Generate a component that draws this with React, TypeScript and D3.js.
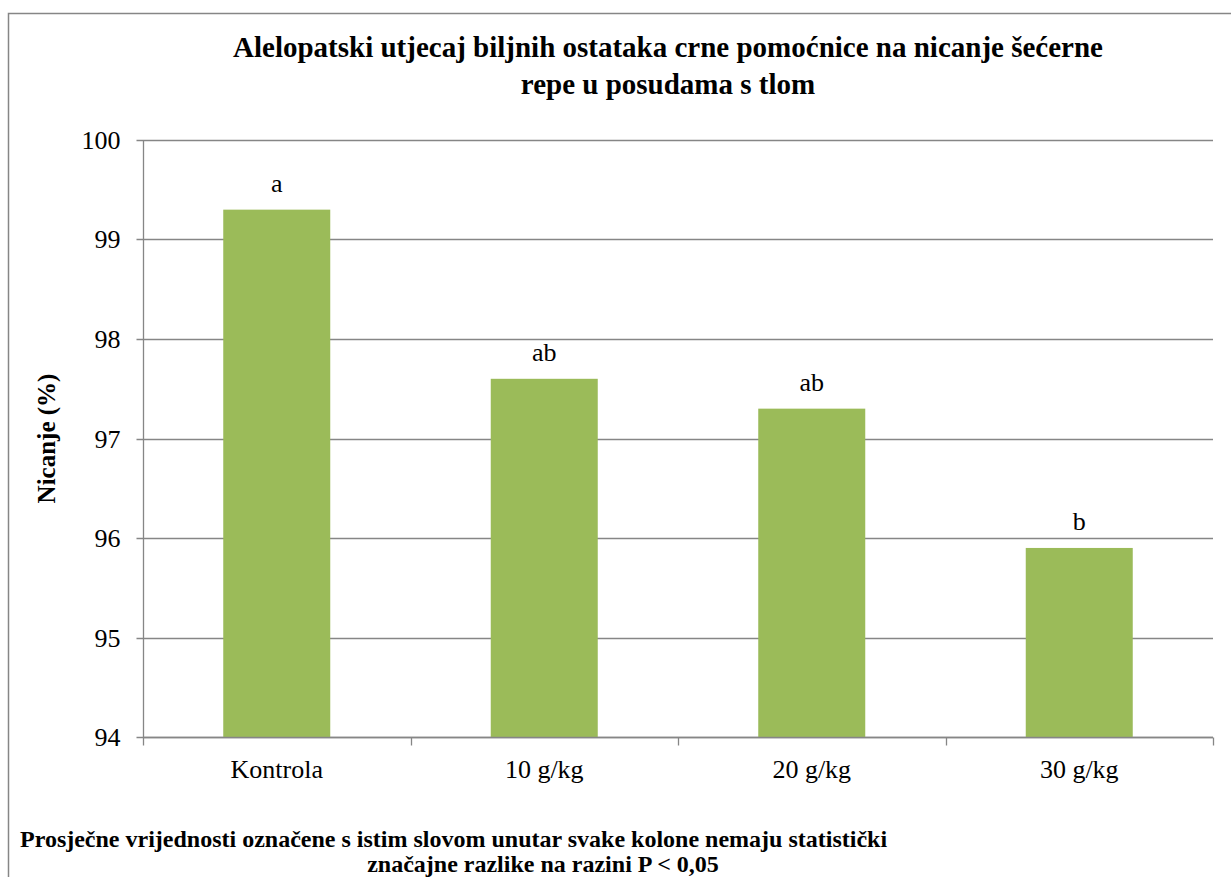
import React from "react";
import * as d3 from "d3";

const categories = ["Kontrola", "10 g/kg", "20 g/kg", "30 g/kg"];
const values = [99.3, 97.6, 97.3, 95.9];
const letters = ["a", "ab", "ab", "b"];
const yTicks = [94, 95, 96, 97, 98, 99, 100];

const titleLines = [
  "Alelopatski utjecaj biljnih ostataka crne pomoćnice na nicanje šećerne",
  "repe u posudama s tlom",
];
const yLabel = "Nicanje (%)";
const noteLines = [
  "Prosječne vrijednosti označene s istim slovom unutar svake kolone nemaju statistički",
  "značajne razlike na razini P < 0,05",
];

const width = 1231;
const height = 877;
const margin = { top: 140, right: 18, bottom: 140, left: 143 };
const grey = "#868686";
const fontList = "'Times New Roman', Tinos, 'Liberation Serif', 'DejaVu Serif', serif";
const serif = { fontFamily: fontList };

const App = () => {
  const x = d3
    .scaleBand()
    .domain(categories)
    .range([margin.left, width - margin.right]);
  const y = d3
    .scaleLinear()
    .domain([94, 100])
    .range([height - margin.bottom, margin.top]);

  const barW = x.bandwidth() / 2.5;
  const x0 = margin.left + 0.5;
  const x1 = width - margin.right;
  const yBase = Math.round(y(94)) + 0.5;
  const edges = categories.map((c) => x(c)!).concat([x1]);
  const fmt = d3.format("d");

  return (
    <svg width={width} height={height} style={{ position: "absolute", left: 0, top: 0 }}>
      <style>{`text { font-family: ${fontList}; }`}</style>
      {/* outer frame, runs off right and bottom */}
      <path d={`M8.5,${height + 5} V13.5 H${width + 5}`} fill="none" stroke={grey} strokeWidth={1.5} />

      {/* gridlines + y ticks */}
      {yTicks.map((t) => {
        const yy = Math.round(y(t)) + 0.5;
        return (
          <g key={t}>
            <line x1={x0 - 7} x2={x1} y1={yy} y2={yy} stroke={grey} strokeWidth={1.3} />
            <text x={x0 - 23} y={yy + 8} fontSize={26} textAnchor="end" style={serif}>
              {fmt(t)}
            </text>
          </g>
        );
      })}

      {/* bars */}
      {values.map((v, i) => (
        <rect
          key={categories[i]}
          x={x(categories[i])! + (x.bandwidth() - barW) / 2}
          y={y(v)}
          width={barW}
          height={y(94) - y(v)}
          fill="#9BBB59"
        />
      ))}

      {/* significance letters */}
      {values.map((v, i) => (
        <text
          key={"l" + i}
          x={x(categories[i])! + x.bandwidth() / 2}
          y={y(v) - 18}
          fontSize={26}
          textAnchor="middle"
          style={serif}
        >
          {letters[i]}
        </text>
      ))}

      {/* axis lines */}
      <line x1={x0} x2={x0} y1={y(100)} y2={yBase} stroke={grey} strokeWidth={1.3} />
      <line x1={x0} x2={x1} y1={yBase} y2={yBase} stroke={grey} strokeWidth={1.3} />
      {edges.map((e, i) => (
        <line
          key={"e" + i}
          x1={Math.round(e) + 0.5}
          x2={Math.round(e) + 0.5}
          y1={yBase}
          y2={yBase + 8}
          stroke={grey}
          strokeWidth={1.3}
        />
      ))}
      {categories.map((c) => (
        <text
          key={c}
          x={x(c)! + x.bandwidth() / 2}
          y={yBase + 40}
          fontSize={26}
          textAnchor="middle"
          style={serif}
        >
          {c}
        </text>
      ))}

      {/* title */}
      {titleLines.map((t, i) => (
        <text
          key={t}
          x={668}
          y={57 + i * 37}
          fontSize={29}
          fontWeight="bold"
          textAnchor="middle"
          style={serif}
        >
          {t}
        </text>
      ))}

      <text
        transform={`translate(55,${(y(100) + y(94)) / 2}) rotate(-90)`}
        fontSize={25}
        fontWeight="bold"
        textAnchor="middle"
        style={serif}
      >
        {yLabel}
      </text>

      {/* footnote */}
      <text x={20} y={847} fontSize={24} fontWeight="bold" style={serif}>
        {noteLines[0]}
      </text>
      <text x={543} y={872} fontSize={24} fontWeight="bold" textAnchor="middle" style={serif}>
        {noteLines[1]}
      </text>
    </svg>
  );
};

export default App;
